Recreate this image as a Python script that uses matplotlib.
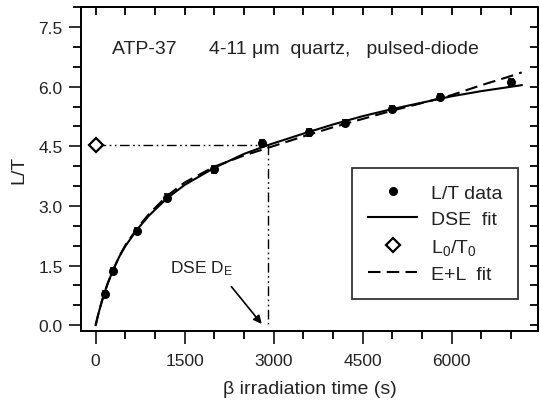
import matplotlib
matplotlib.use("Agg")
import matplotlib.pyplot as plt
from matplotlib.ticker import MultipleLocator, FormatStrFormatter, NullLocator
from matplotlib.lines import Line2D

plt.rcParams['font.family'] = ['Liberation Sans', 'DejaVu Sans']
plt.rcParams['mathtext.fontset'] = 'custom'
plt.rcParams['mathtext.rm'] = 'Liberation Sans'
plt.rcParams['mathtext.it'] = 'Liberation Sans'

TXT = '#222222'

# measured L/T data
time_s = [150, 300, 700, 1200, 2000, 2800, 3600, 4200, 5000, 5800, 7000]
lt_data = [0.79, 1.37, 2.37, 3.21, 3.92, 4.58, 4.85, 5.09, 5.44, 5.74, 6.12]
lt_err = [0.08] * len(time_s)

# DSE fit curve
dse_x = [0, 25, 50, 100, 150, 200, 300, 400, 500, 700, 900, 1200, 1500, 2000,
         2500, 2900, 3500, 4000, 4500, 5000, 5500, 6000, 6500, 7000, 7180]
dse_y = [0.0, 0.16, 0.31, 0.58, 0.82, 1.04, 1.41, 1.73, 1.99, 2.41, 2.76, 3.19,
         3.53, 3.96, 4.31, 4.53, 4.82, 5.05, 5.26, 5.44, 5.60, 5.76, 5.89, 6.00, 6.04]

# E+L fit curve
el_x = [0, 25, 50, 100, 150, 200, 300, 400, 500, 700, 900, 1200, 1500, 2000,
        2500, 2900, 3500, 4000, 4500, 5000, 5500, 6000, 6500, 7000, 7180]
el_y = [0.0, 0.16, 0.31, 0.58, 0.82, 1.04, 1.41, 1.74, 2.01, 2.44, 2.80, 3.25,
        3.59, 3.99, 4.27, 4.46, 4.75, 4.98, 5.19, 5.40, 5.59, 5.79, 6.04, 6.27, 6.36]

# L0/T0 and equivalent dose
l0t0_x = [0]
l0t0_y = [4.53]
de_value = 2900

fig = plt.figure(figsize=(5.4, 4.06), dpi=100)
ax = fig.add_axes([0.1494, 0.183, 0.8478, 0.7966])

dashdotdot = (0, (7, 2.5, 1.2, 2.5, 1.2, 2.5))
ax.plot([l0t0_x[0], de_value], [l0t0_y[0], l0t0_y[0]], color='black', lw=1.0,
        linestyle=dashdotdot, zorder=1)
ax.plot([de_value, de_value], [l0t0_y[0], 0.03], color='black', lw=1.0,
        linestyle=dashdotdot, zorder=1)

ax.plot(dse_x, dse_y, color='black', lw=1.5, zorder=3)
ax.plot(el_x, el_y, color='black', lw=1.5, linestyle=(0, (6, 3)), zorder=3)
ax.errorbar(time_s, lt_data, yerr=lt_err, fmt='o', color='black', ms=5.5,
            capsize=2.5, elinewidth=1.2, capthick=1.2, zorder=4)
ax.plot(l0t0_x, l0t0_y, marker='D', ms=7.5, mfc='white', mec='black', mew=1.6,
        linestyle='none', zorder=5, clip_on=False)

ax.set_xlim(-253, 7463)
ax.set_ylim(-0.14, 8.0)

ax.set_xticks([0, 1500, 3000, 4500, 6000])
ax.xaxis.set_minor_locator(MultipleLocator(500))
ax.yaxis.set_major_locator(MultipleLocator(1.5))
ax.yaxis.set_minor_locator(MultipleLocator(0.5))
ax.yaxis.set_major_formatter(FormatStrFormatter('%.1f'))

ax.tick_params(axis='both', which='major', direction='out', length=9, width=1.3,
               labelsize=12.5, colors=TXT, top=False, right=False)
ax.tick_params(axis='both', which='minor', direction='out', length=5.5, width=1.3,
               top=False, right=False)
ax.tick_params(axis='x', which='major', pad=7)
ax.tick_params(axis='y', which='major', pad=4)
for s in ax.spines.values():
    s.set_linewidth(1.4)

secx = ax.secondary_xaxis('top')
secx.xaxis.set_major_locator(MultipleLocator(500))
secx.tick_params(direction='in', length=6, width=1.3, labeltop=False)
secx.xaxis.set_minor_locator(NullLocator())
secy = ax.secondary_yaxis('right')
secy.yaxis.set_major_locator(MultipleLocator(0.5))
secy.tick_params(direction='in', length=6, width=1.3, labelright=False)
secy.yaxis.set_minor_locator(NullLocator())
for sec in (secx, secy):
    for s in sec.spines.values():
        s.set_linewidth(1.4)

ax.set_xlabel('β irradiation time (s)', fontsize=14, color=TXT, labelpad=9)
ax.set_ylabel('L/T', fontsize=14, color=TXT, labelpad=8)

ax.text(280, 6.84, 'ATP-37      4-11 μm  quartz,   pulsed-diode', fontsize=14,
        color=TXT, va='baseline', ha='left')

ax.text(1260, 1.34, r'DSE D$_\mathrm{E}$', fontsize=12.5, color=TXT,
        va='baseline', ha='left')
ax.annotate('', xy=(2798, 0.03), xytext=(2287, 0.97),
            arrowprops=dict(arrowstyle='-|>', color='black', lw=1.2,
                            mutation_scale=12, shrinkA=0, shrinkB=0))

handles = [
    Line2D([], [], marker='o', color='black', linestyle='none', ms=5.5),
    Line2D([], [], color='black', lw=1.5),
    Line2D([], [], marker='D', ms=7.5, mfc='white', mec='black', mew=1.6, linestyle='none'),
    Line2D([], [], color='black', lw=1.5, linestyle=(0, (6, 3))),
]
labels = ['L/T data', 'DSE  fit', r'L$_0$/T$_0$', 'E+L  fit']
leg = ax.legend(handles, labels, loc='upper left', bbox_to_anchor=(0.593, 0.502, 0.363, 0.0),
                mode='expand', fontsize=14, frameon=True, fancybox=False,
                edgecolor='black', handlelength=2.55, handletextpad=0.72,
                borderaxespad=0, labelspacing=0.45, borderpad=0.8)
leg.get_frame().set_linewidth(1.3)
for t in leg.get_texts():
    t.set_color(TXT)

fig.savefig('out.png', dpi=100)
